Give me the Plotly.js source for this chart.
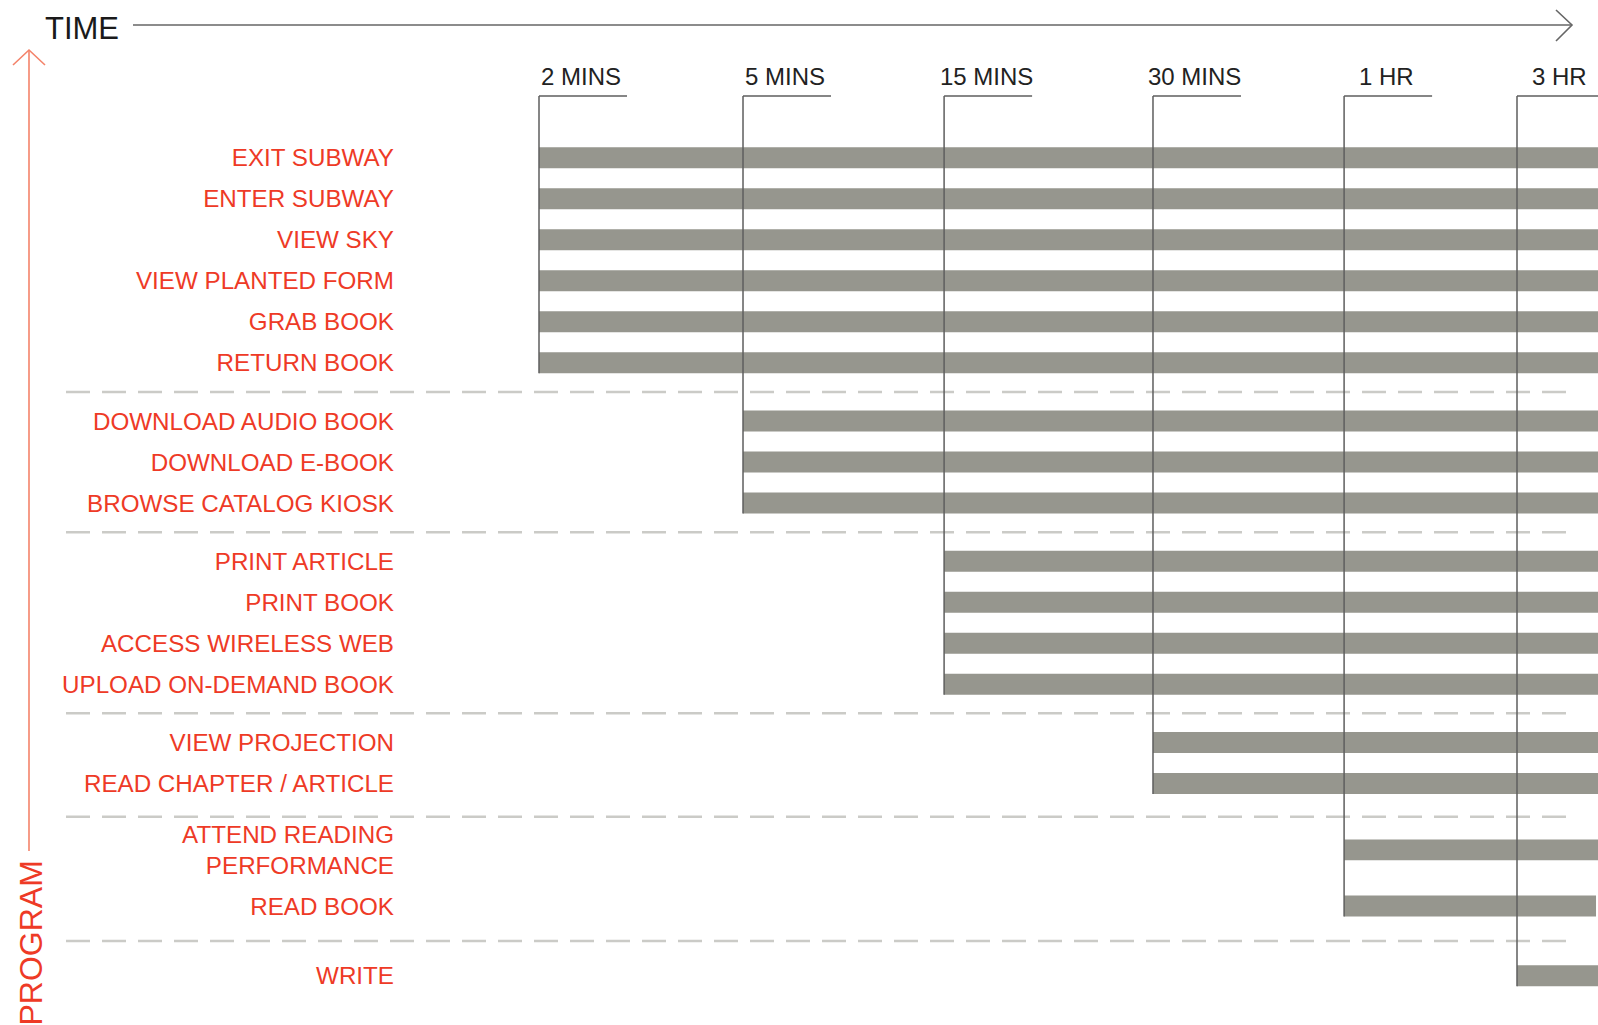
<!DOCTYPE html>
<html>
<head>
<meta charset="utf-8">
<script src="https://cdn.plot.ly/plotly-3.0.1.min.js"></script>
<style>
  html, body { margin: 0; padding: 0; background: #ffffff; }
  #chart { width: 1598px; height: 1025px; }
</style>
</head>
<body>
<div id="chart"></div>
<script>
// ---------------- DATA ----------------
const timeMarks = ['2 MINS', '5 MINS', '15 MINS', '30 MINS', '1 HR', '3 HR'];
// position of each time mark on the (irregular) time scale
const timeMarkValue = [0, 1.043, 2.071, 3.139, 4.116, 5];

const rowLabels = [
  'EXIT SUBWAY', 'ENTER SUBWAY', 'VIEW SKY', 'VIEW PLANTED FORM', 'GRAB BOOK', 'RETURN BOOK',
  'DOWNLOAD AUDIO BOOK', 'DOWNLOAD E-BOOK', 'BROWSE CATALOG KIOSK',
  'PRINT ARTICLE', 'PRINT BOOK', 'ACCESS WIRELESS WEB', 'UPLOAD ON-DEMAND BOOK',
  'VIEW PROJECTION', 'READ CHAPTER / ARTICLE',
  'ATTEND READING<br>PERFORMANCE', 'READ BOOK',
  'WRITE'
];
// minimum time each program needs
const rowStart = [
  '2 MINS', '2 MINS', '2 MINS', '2 MINS', '2 MINS', '2 MINS',
  '5 MINS', '5 MINS', '5 MINS',
  '15 MINS', '15 MINS', '15 MINS', '15 MINS',
  '30 MINS', '30 MINS',
  '1 HR', '1 HR',
  '3 HR'
];
// where a bar stops on the time scale (null = runs on past the edge)
const rowEnd = [null, null, null, null, null, null, null, null, null,
                null, null, null, null, null, null, null, 5.404, null];

// ---------------- LAYOUT HELPERS ----------------
const W = 1598, H = 1025;
const PLOT_LEFT = 400;
const X0_PX = 539, X_UNIT = 195.6;      // time scale
const Y0_PX = 157.8, Y_UNIT = 41;       // row scale
const GROUP_GAP = 0.42, TWO_BEFORE = 0.2, TWO_AFTER = 0.37, TALL_GROUP_EXTRA = 0.28;
const OPEN_END = 5.8;

const RED = '#ee3a26';
const SALMON = '#f4836a';
const BAR = '#96968e';
const FONT = 'Liberation Sans, Arial, Helvetica, sans-serif';

const xP = px => (px - PLOT_LEFT) / (W - PLOT_LEFT);
const yP = py => 1 - py / H;

const isTwo = s => s.indexOf('<br>') >= 0;
const rowPos = [];
let p = 0, groupHasTall = false;
rowLabels.forEach((lab, i) => {
  if (i > 0) {
    p += 1;
    if (rowStart[i] !== rowStart[i - 1]) {
      p += GROUP_GAP;
      if (groupHasTall) p += TALL_GROUP_EXTRA;
      groupHasTall = false;
    }
    if (isTwo(lab)) p += TWO_BEFORE;
    if (isTwo(rowLabels[i - 1])) p += TWO_AFTER;
  }
  if (isTwo(lab)) groupHasTall = true;
  rowPos.push(p);
});

const startVal = rowStart.map(s => timeMarkValue[timeMarks.indexOf(s)]);
const endVal = rowEnd.map(e => (e === null ? OPEN_END : e));
const barLen = endVal.map((e, i) => e - startVal[i]);
const BAR_W = 0.51;

const xRange = [(PLOT_LEFT - X0_PX) / X_UNIT, (W - X0_PX) / X_UNIT];
const yRange = [(H - Y0_PX) / Y_UNIT, -Y0_PX / Y_UNIT];
const bracketY = (96 - Y0_PX) / Y_UNIT;
const markLabelY = (76.7 - Y0_PX) / Y_UNIT;

// ---------------- SHAPES ----------------
const shapes = [];

// dashed separators between groups
for (let i = 1; i < rowLabels.length; i++) {
  if (rowStart[i] !== rowStart[i - 1]) {
    const ym = (rowPos[i] + rowPos[i - 1]) / 2;
    shapes.push({
      type: 'line', xref: 'paper', yref: 'y',
      x0: xP(66), x1: xP(1569), y0: ym, y1: ym,
      line: { color: '#cbcbc7', width: 2.5, dash: '24px,12px' }
    });
  }
}

// brackets for each time mark
timeMarks.forEach((m, k) => {
  const t = timeMarkValue[k];
  let last = null;
  rowStart.forEach((s, i) => { if (s === m) last = rowPos[i]; });
  shapes.push({
    type: 'line', xref: 'x', yref: 'y', layer: 'above',
    x0: t, x1: t, y0: bracketY, y1: last + BAR_W / 2,
    line: { color: '#5e5e5e', width: 1.5 }
  });
  shapes.push({
    type: 'line', xref: 'x', yref: 'y', layer: 'above',
    xsizemode: 'pixel', xanchor: t, x0: 0, x1: 88,
    y0: bracketY, y1: bracketY,
    line: { color: '#5e5e5e', width: 1.5 }
  });
});

// TIME arrow
shapes.push({
  type: 'line', xref: 'paper', yref: 'paper',
  x0: xP(133), x1: xP(1571), y0: yP(25), y1: yP(25),
  line: { color: '#666666', width: 1.6 }
});
shapes.push({
  type: 'path', xref: 'paper', yref: 'paper',
  path: `M${xP(1556)},${yP(10)} L${xP(1572)},${yP(25)} L${xP(1556)},${yP(41)}`,
  line: { color: '#666666', width: 1.6 }
});
// PROGRAM arrow
shapes.push({
  type: 'line', xref: 'paper', yref: 'paper',
  x0: xP(29), x1: xP(29), y0: yP(50), y1: yP(851),
  line: { color: SALMON, width: 1.6 }
});
shapes.push({
  type: 'path', xref: 'paper', yref: 'paper',
  path: `M${xP(13)},${yP(65)} L${xP(29)},${yP(50)} L${xP(45)},${yP(65)}`,
  line: { color: SALMON, width: 1.6 }
});

// ---------------- ANNOTATIONS ----------------
const annotations = [];
timeMarks.forEach((m, k) => {
  annotations.push({
    text: m, xref: 'x', yref: 'y', x: timeMarkValue[k], y: markLabelY,
    xshift: 42, xanchor: 'center', yanchor: 'middle', showarrow: false,
    font: { family: FONT, size: 24, color: '#222222' }
  });
});
annotations.push({
  text: 'TIME', xref: 'paper', yref: 'paper', x: xP(43), y: yP(28),
  xanchor: 'left', yanchor: 'middle', showarrow: false,
  font: { family: FONT, size: 31, color: '#1a1a1a' }
});
annotations.push({
  text: 'PROGRAM', xref: 'paper', yref: 'paper', x: xP(30.5), y: yP(943),
  xanchor: 'center', yanchor: 'middle', textangle: -90, showarrow: false,
  font: { family: FONT, size: 32, color: RED }
});

// ---------------- PLOT ----------------
const trace = {
  type: 'bar', orientation: 'h',
  y: rowPos, x: barLen, base: startVal, width: BAR_W,
  marker: { color: BAR, line: { width: 0 } },
  hoverinfo: 'skip', cliponaxis: true
};

const layout = {
  width: W, height: H,
  margin: { l: PLOT_LEFT, r: 0, t: 0, b: 0, pad: 0 },
  paper_bgcolor: '#ffffff', plot_bgcolor: '#ffffff',
  showlegend: false,
  xaxis: {
    range: xRange, fixedrange: true, showgrid: false, zeroline: false,
    showline: false, showticklabels: false, ticks: ''
  },
  yaxis: {
    range: yRange, fixedrange: true, showgrid: false, zeroline: false,
    showline: false, ticks: '', automargin: false,
    tickmode: 'array', tickvals: rowPos, ticktext: rowLabels,
    ticklabelstandoff: 5,
    tickfont: { family: FONT, size: 24.2, color: RED }
  },
  shapes: shapes,
  annotations: annotations
};

Plotly.newPlot('chart', [trace], layout, { displayModeBar: false, staticPlot: true });
</script>
</body>
</html>
